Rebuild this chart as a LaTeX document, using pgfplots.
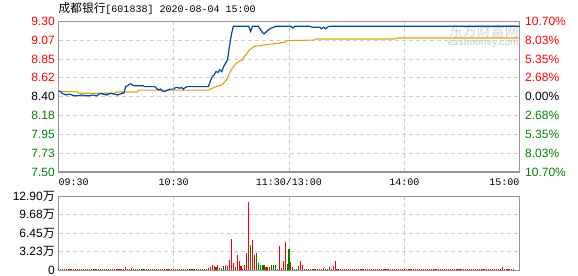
\documentclass[border=0pt]{standalone}
\usepackage{fontspec}
\setmainfont{Liberation Sans}
\newfontfamily\cjk{Noto Sans CJK SC}
\newfontfamily\mono{Liberation Mono}
\usepackage{pgfplots}
\pgfplotsset{compat=1.18}
\definecolor{pblue}{RGB}{0,72,160}
\definecolor{pgold}{RGB}{225,160,20}
\definecolor{dgreen}{RGB}{0,128,0}
\definecolor{framegray}{RGB}{150,150,150}
\definecolor{gridgray}{RGB}{205,205,205}
\definecolor{wmgray}{RGB}{212,212,212}
\newcommand\lab{\fontsize{12bp}{12bp}\selectfont}
\newcommand\xl{\mono\fontsize{10bp}{10bp}\selectfont}
\pgfplotsset{
  panel/.style={
    scale only axis, anchor=south west, width=461bp,
    xmin=0, xmax=240, xtick={60,120,180}, xticklabels={},
    major tick length=0pt, grid=major,
    major grid style={draw=gridgray, line width=0.8bp, dash pattern=on 4bp off 3bp},
    axis line style={draw=framegray, line width=1.1bp},
    yticklabel style={font=\lab, inner sep=0pt, xshift=-3.5bp},
    clip=false,
  }
}
\begin{document}
\begin{tikzpicture}
\useasboundingbox (0,0) rectangle (578bp,276bp);
% title
\node[anchor=base west, inner sep=0pt] at (58.5bp,263.3bp)
  {{\cjk\fontsize{11.7bp}{12bp}\selectfont 成都银行}{\mono\fontsize{10bp}{12bp}\selectfont[601838] 2020-08-04 15:00}};
% watermark
\node[anchor=east, inner sep=0pt, text=wmgray, font=\cjk\fontsize{14bp}{14bp}\selectfont] at (519bp,245bp) {东方财富网};
\node[anchor=east, inner sep=0pt, text=wmgray, font=\bfseries\fontsize{9.5bp}{10bp}\selectfont] at (519bp,232.5bp) {eastmoney.com};

% ---------- price panel ----------
\begin{axis}[panel, at={(58.5bp,104bp)}, height=150.7bp,
  ymin=7.50, ymax=9.30,
  ytick={7.50,7.725,7.95,8.175,8.40,8.625,8.85,9.075,9.30},
  yticklabels={\textcolor{dgreen}{7.50},\textcolor{dgreen}{7.73},\textcolor{dgreen}{7.95},\textcolor{dgreen}{8.18},\textcolor{black}{8.40},\textcolor{red}{8.62},\textcolor{red}{8.85},\textcolor{red}{9.07},\textcolor{red}{9.30}},
]
\addplot[pgold, line width=1.1bp, mark=none] coordinates {
(0,8.46) (10,8.46) (10.5,8.44) (29,8.44) (30,8.455) (41,8.455) (41.5,8.478) (78,8.478)
(80,8.50) (82,8.52) (85,8.54) (87.5,8.60) (89,8.68) (90.5,8.74) (92.5,8.80) (95.5,8.84)
(97.5,8.90) (99.5,8.96) (102,9.00) (108,9.02) (115,9.04) (118,9.05) (119,9.068) (133,9.076)
(134,9.088) (175,9.088) (176,9.10) (240,9.10)
};
\addplot[pblue, line width=1.2bp, mark=none] coordinates {
(0,8.47) (1,8.46) (2,8.44) (3,8.43) (4,8.42) (5,8.43) (6,8.43) (7,8.42) (8,8.41) (10,8.41)
(12,8.42) (14,8.41) (16,8.41) (18,8.42) (20,8.41) (21,8.43) (22,8.44) (23,8.43) (25,8.42)
(27,8.44) (29,8.43) (31,8.42) (33,8.44) (34,8.44) (35,8.52) (36,8.53) (37,8.55) (38,8.55)
(39,8.53) (41,8.53) (44,8.53) (45,8.52) (48,8.52) (50,8.52) (51,8.50) (52,8.48) (53,8.49)
(54,8.47) (55,8.46) (56,8.47) (57,8.48) (58,8.49) (60,8.49) (61,8.51) (62,8.51) (63,8.50)
(64,8.51) (65,8.49) (66,8.51) (67,8.52) (70,8.52) (74,8.52) (78,8.52) (79,8.58) (80,8.64)
(81,8.66) (82,8.70) (83,8.69) (84,8.72) (85,8.70) (86,8.76) (87,8.80) (88,8.84) (89,9.00)
(90,9.14) (91,9.24) (99,9.24) (100,9.18) (101,9.24) (104,9.24) (105,9.21) (106,9.17)
(107,9.15) (108,9.17) (109,9.19) (110,9.21) (111,9.22) (112,9.23) (113,9.24) (121,9.24)
(122,9.22) (123,9.24) (131,9.24) (132,9.23) (136,9.23) (137,9.21) (138,9.23) (139,9.21)
(140,9.23) (141,9.24) (240,9.24)
};
% right percentage labels
\node[anchor=west, inner sep=0pt, font=\lab, text=red] at ([xshift=5.5bp]rel axis cs:1,1) {10.70\%};
\node[anchor=west, inner sep=0pt, font=\lab, text=red] at ([xshift=5.5bp]rel axis cs:1,0.875) {8.03\%};
\node[anchor=west, inner sep=0pt, font=\lab, text=red] at ([xshift=5.5bp]rel axis cs:1,0.75) {5.35\%};
\node[anchor=west, inner sep=0pt, font=\lab, text=red] at ([xshift=5.5bp]rel axis cs:1,0.625) {2.68\%};
\node[anchor=west, inner sep=0pt, font=\lab, text=black] at ([xshift=5.5bp]rel axis cs:1,0.5) {0.00\%};
\node[anchor=west, inner sep=0pt, font=\lab, text=dgreen] at ([xshift=5.5bp]rel axis cs:1,0.375) {2.68\%};
\node[anchor=west, inner sep=0pt, font=\lab, text=dgreen] at ([xshift=5.5bp]rel axis cs:1,0.25) {5.35\%};
\node[anchor=west, inner sep=0pt, font=\lab, text=dgreen] at ([xshift=5.5bp]rel axis cs:1,0.125) {8.03\%};
\node[anchor=west, inner sep=0pt, font=\lab, text=dgreen] at ([xshift=5.5bp]rel axis cs:1,0) {10.70\%};
% time labels
\node[anchor=base west, inner sep=0pt, font=\xl] at ([yshift=-13.7bp]rel axis cs:0,0) {09:30};
\node[anchor=base, inner sep=0pt, font=\xl] at ([yshift=-13.7bp]rel axis cs:0.25,0) {10:30};
\node[anchor=base, inner sep=0pt, font=\xl] at ([yshift=-13.7bp]rel axis cs:0.5,0) {11:30/13:00};
\node[anchor=base, inner sep=0pt, font=\xl] at ([yshift=-13.7bp]rel axis cs:0.75,0) {14:00};
\node[anchor=base east, inner sep=0pt, font=\xl] at ([yshift=-13.7bp]rel axis cs:1,0) {15:00};
\end{axis}

% ---------- volume panel ----------
\begin{axis}[panel, at={(58.5bp,5.7bp)}, height=74bp,
  ymin=0, ymax=12.90,
  ytick={0,3.225,6.45,9.675,12.90},
  yticklabels={0,3.23{\cjk 万},6.45{\cjk 万},9.68{\cjk 万},12.90{\cjk 万}},
]
\addplot[ycomb, draw=red, line width=1.1bp, mark=none] coordinates {
(1,.28) (2,.28) (3,.28) (5,.28) (6,.28) (7,.28) (8,.28) (10,.28) (11,.28) (12,.28) (14,.28)
(15,.28) (16,.28) (18,.28) (19,.28) (20,.28) (21,.28) (23,.28) (24,.28) (25,.28) (27,.28)
(28,.28) (29,.28) (31,.28) (32,.28) (34,.28) (35,.55) (36,.28) (37,.28) (38,.38) (39,.28)
(40,.28) (42,.28) (43,.28) (45,.28) (46,.28) (48,.28) (49,.28) (50,.28) (51,.28) (53,.28)
(54,.28) (56,.28) (57,.28) (58,.28) (60,.28) (61,.28) (62,.28) (64,.28) (65,.28) (67,.28)
(68,.28) (69,.28) (71,.28) (72,.28) (73,.3) (74,.28) (75,.28) (76,.28) (77,.28) (78,.38)
(79,.6) (80,.9) (82,.65) (83,.9) (85,.38) (88,.75) (89,1.8) (90,5.46) (91,1.3) (92,.6)
(93,2.7) (94,1.6) (95,.75) (96,.3) (97,.93) (98,3.1) (99,11.96) (101,5.3) (102,2.7)
(108,.64) (109,.64) (110,.64) (115,4.3) (116,.38) (117,1.6) (118,5.0) (121,1.45) (125,.75)
(126,1.6) (127,.93) (129,.28) (130,.28) (132,.28) (133,.28) (134,.28) (136,.28) (137,.28)
(138,.47) (141,.64) (142,.3) (143,.75) (144,1.6) (145,.28) (146,.28) (147,.28) (148,.28)
(149,.28) (150,.28) (151,.28) (152,.28) (153,.28) (154,.28) (155,.28) (156,.28) (157,.28)
(158,.28) (159,.28) (160,.28) (161,.28) (162,.28) (163,.28) (164,.28) (165,.28) (166,.28)
(167,.28) (168,.28) (169,.28) (170,.28) (171,.28) (172,.28) (173,.28) (174,.28) (175,.28)
(176,.28) (177,.28) (178,.28) (179,.28) (180,.28) (181,.28) (182,.28) (183,.28) (184,.28)
(185,.28) (186,.28) (187,.28) (188,.28) (189,.28) (190,.28) (191,.28) (192,.28) (193,.28)
(194,.28) (195,.28) (196,.28) (197,.28) (198,.28) (199,.28) (200,.28) (201,.28) (202,.28)
(203,.28) (204,.28) (205,.28) (206,.28) (207,.28) (208,.28) (209,.28) (210,.28) (211,.28)
(212,.28) (213,.28) (214,.28) (215,.28) (216,.28) (217,.28) (218,.28) (219,.28) (220,.28)
(221,.28) (222,.28) (223,.28) (224,.28) (225,.28) (226,.28) (227,.28) (228,.28) (229,.28)
(230,.28) (231,.6) (232,.28) (233,.28) (234,.28) (235,.28) (236,.28) (237,.28)
};
\addplot[ycomb, draw=dgreen, line width=1.1bp, mark=none] coordinates {
(0,.4) (4,.28) (9,.28) (13,.28) (17,.28) (22,.28) (26,.28) (30,.28) (33,.28) (41,.28)
(44,.28) (47,.28) (52,.28) (55,.28) (59,.28) (63,.28) (66,.28) (70,.28) (81,.75) (84,.45)
(86,.75) (87,.9) (100,4.4) (103,3.1) (104,1.2) (105,.93) (106,.93) (107,.93) (111,.93)
(112,.93) (113,.93) (114,.3) (119,1.1) (120,3.8) (122,.5) (123,.3) (124,.3) (128,.3)
(131,.28) (135,.28) (139,.3) (140,.3)
};
\end{axis}
\end{tikzpicture}
\end{document}
